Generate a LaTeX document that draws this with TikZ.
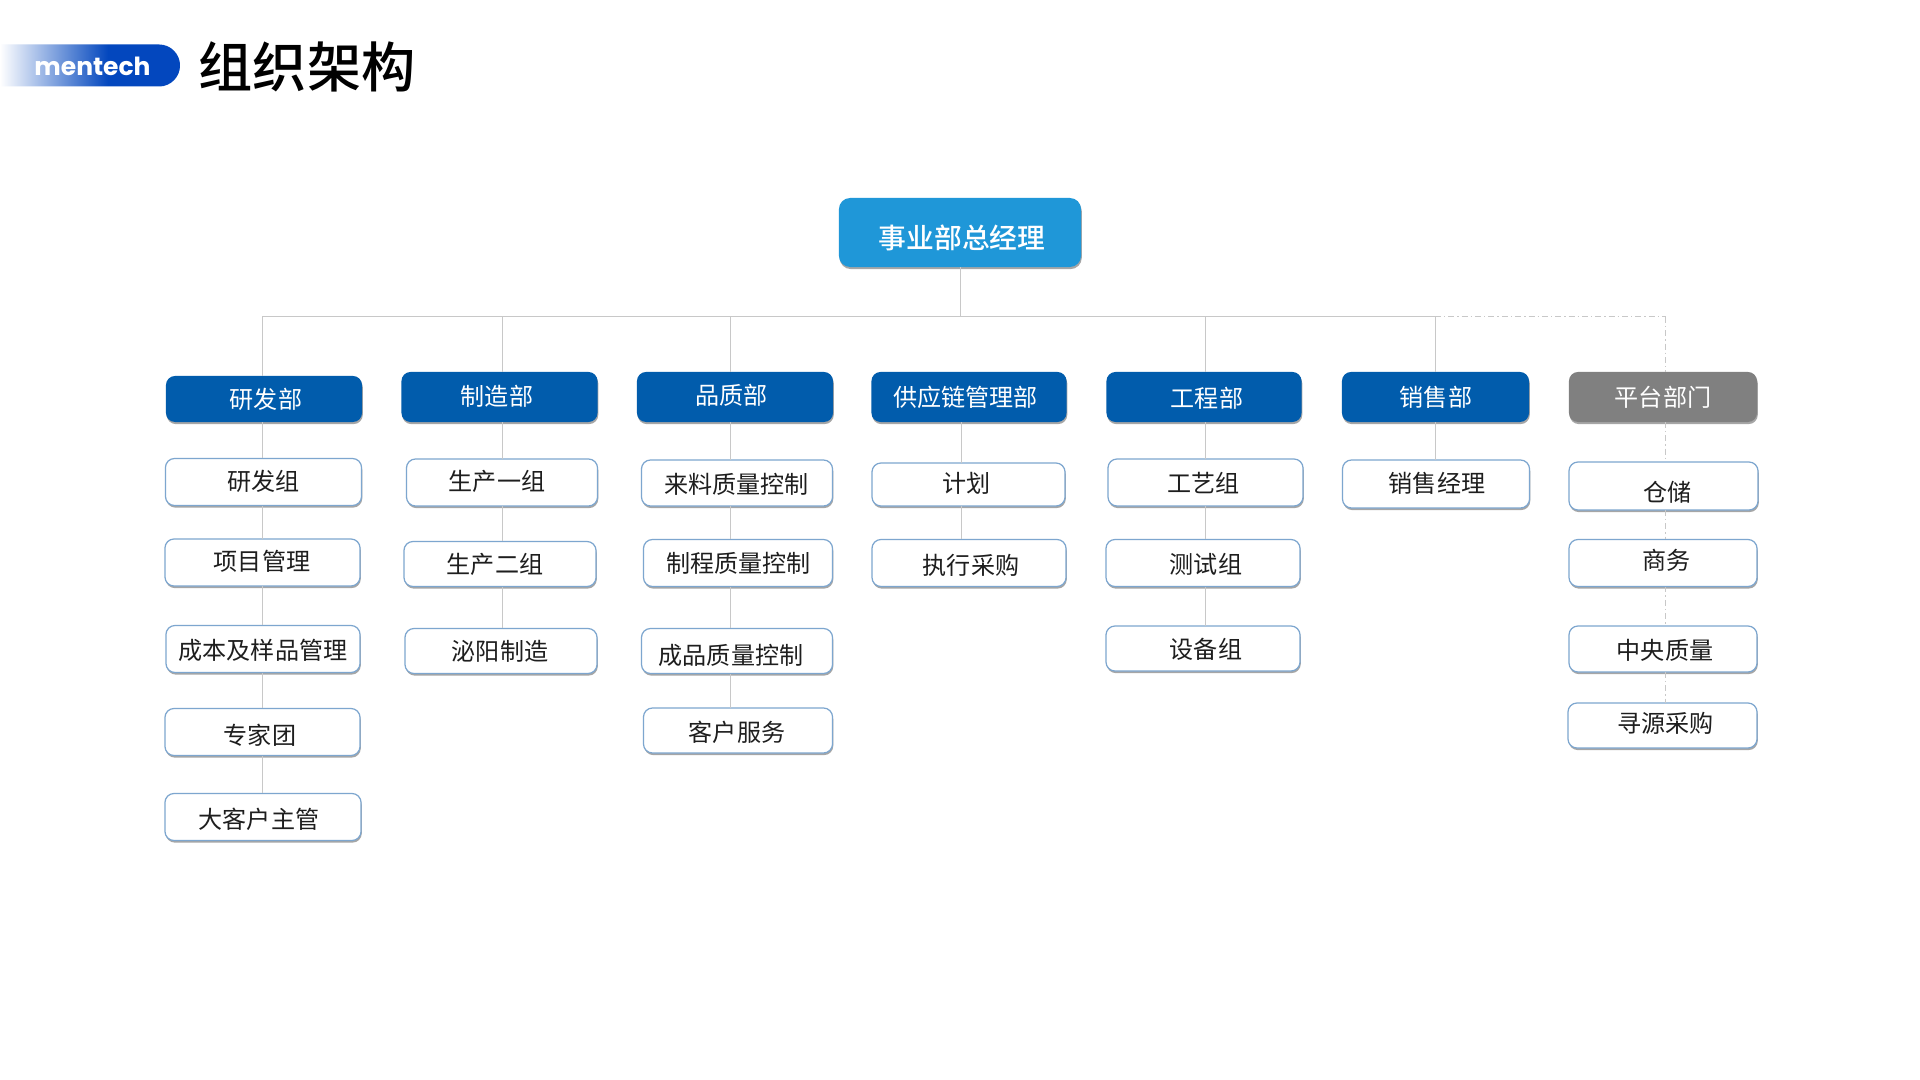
\documentclass[tikz,border=0pt]{standalone}
\usepackage{fontspec}
\usepackage{xcolor}
\usetikzlibrary{shadows,shapes.misc}
\setmainfont{Noto Sans CJK SC}
\newfontfamily\logofont{Poppins}
\newfontfamily\headfont{Noto Sans CJK SC Medium}
\definecolor{rootblue}{HTML}{1F97D8}
\definecolor{deptblue}{HTML}{015CAC}
\definecolor{deptgrey}{HTML}{808080}
\definecolor{subframe}{HTML}{7DA6CF}
\definecolor{wiregrey}{HTML}{C8C8C8}
\definecolor{logoblue}{HTML}{0347BE}
\definecolor{subtext}{HTML}{1E1E1E}
\pgfdeclarehorizontalshading{pillfade}{100bp}{color(0bp)=(white); color(25bp)=(white);
  color(55bp)=(logoblue); color(100bp)=(logoblue)}
\newdimen\pxu \pxu=0.01cm
\newcommand{\nudge}[3]{\makebox[0pt]{\hspace*{2\dimexpr#1\pxu\relax}%
  \raisebox{\dimexpr -0.42em-#2\pxu\relax}[0pt][0pt]{#3}}}

\begin{document}
\begin{tikzpicture}[
  x=0.01cm,y=-0.01cm,
  font=\fontsize{6.85}{8}\selectfont,
  every node/.style={align=center,inner sep=0pt,outer sep=0pt},
  softshadow/.style={drop shadow={shadow xshift=0.2pt,shadow yshift=-0.6pt,opacity=.35,fill=black}},
  rootbox/.style={fill=rootblue,rounded corners=3.2pt,softshadow,text=white,
                  font=\fontsize{7.9}{9}\selectfont\headfont,minimum width=2.42cm,minimum height=0.69cm},
  dept/.style={fill=deptblue,rounded corners=2.6pt,softshadow,text=white,minimum height=0.5cm},
  platdept/.style={dept,fill=deptgrey},
  sub/.style={draw=subframe,line width=0.35pt,fill=white,rounded corners=2.6pt,softshadow,
              text=subtext,minimum height=0.47cm},
  wire/.style={draw=wiregrey,line width=0.28pt},
  dashwire/.style={wire,dash pattern=on 1.7pt off .85pt on .4pt off .85pt}
]
\useasboundingbox (0,0) rectangle (1920,1080);
\fill[white] (0,0) rectangle (1920,1080);

\node[rounded rectangle,rounded rectangle west arc=none,shading=pillfade,
      minimum width=1.8cm,minimum height=0.42cm] (logo) at (90,65.5) {};
\node[text=white,font=\fontsize{7.1}{9}\selectfont\logofont\bfseries] (logotext) at (92.5,66) {mentech};
\node[font=\fontsize{15.4}{17}\selectfont\headfont,text=black] (title) at (307,67) {组织架构};

\node[rootbox] (root) at (960,232.5) {\nudge{2}{4}{事业部总经理}};

\node[dept,minimum width=1.96cm,minimum height=0.46cm] (rd) at (264,399) {\nudge{2}{-1}{研发部}};
\node[dept,minimum width=1.96cm] (mfg)   at (499.5,397) {\nudge{-2.5}{-2}{制造部}};
\node[dept,minimum width=1.96cm] (qual)  at (735,397)   {\nudge{-3.5}{-3}{品质部}};
\node[dept,minimum width=1.95cm] (scm)   at (969,397)   {\nudge{-3.5}{-1}{供应链管理部}};
\node[dept,minimum width=1.95cm] (eng)   at (1204,397)  {\nudge{3}{0}{工程部}};
\node[dept,minimum width=1.87cm] (sales) at (1435.5,397) {\nudge{0.5}{-1}{销售部}};
\node[platdept,minimum width=1.88cm] (plat) at (1663,397) {\nudge{0}{-1}{平台部门}};

\node[sub,minimum width=1.96cm] (rdgrp)  at (263.5,482) {\nudge{0}{-2}{研发组}};
\node[sub,minimum width=1.95cm] (pm)     at (262.5,562.5) {\nudge{-0.5}{-2.5}{项目管理}};
\node[sub,minimum width=1.94cm] (cost)   at (263,649)   {\nudge{0}{0}{成本及样品管理}};
\node[sub,minimum width=1.95cm] (expert) at (262.5,732) {\nudge{-2.5}{2.5}{专家团}};
\node[sub,minimum width=1.96cm] (kam)    at (263,817)   {\nudge{-4}{1}{大客户主管}};

\node[sub,minimum width=1.91cm] (prodone) at (502,482.5) {\nudge{-5}{-2.5}{生产一组}};
\node[sub,minimum width=1.92cm,minimum height=0.45cm] (prodtwo) at (500,564) {\nudge{-5}{-1}{生产二组}};
\node[sub,minimum width=1.92cm,minimum height=0.45cm] (biyang)  at (501,651) {\nudge{-1}{-1}{泌阳制造}};

\node[sub,minimum width=1.91cm,minimum height=0.46cm] (iqc)  at (737,483)   {\nudge{-0.5}{0.5}{来料质量控制}};
\node[sub,minimum width=1.89cm] (ipqc) at (738,563)   {\nudge{0.5}{-1}{制程质量控制}};
\node[sub,minimum width=1.91cm,minimum height=0.45cm] (oqc)  at (737,651)   {\nudge{-6}{3}{成品质量控制}};
\node[sub,minimum width=1.89cm,minimum height=0.45cm] (cserv) at (738,730.5) {\nudge{-1}{1}{客户服务}};

\node[sub,minimum width=1.93cm,minimum height=0.43cm] (plan) at (968.5,484.5) {\nudge{-2}{-2}{计划}};
\node[sub,minimum width=1.94cm] (purch) at (969,563) {\nudge{2}{1}{执行采购}};

\node[sub,minimum width=1.95cm] (craft) at (1205.5,482.5) {\nudge{-2}{0}{工艺组}};
\node[sub,minimum width=1.94cm] (test)  at (1203,563)   {\nudge{3}{0}{测试组}};
\node[sub,minimum width=1.94cm,minimum height=0.45cm] (equip) at (1203,648.5) {\nudge{3}{0}{设备组}};

\node[sub,minimum width=1.87cm,minimum height=0.48cm] (salesmgr) at (1436,484) {\nudge{1}{-2}{销售经理}};

\node[sub,minimum width=1.89cm,minimum height=0.48cm] (store) at (1663.5,486) {\nudge{4}{5.5}{仓储}};
\node[sub,minimum width=1.88cm] (biz)    at (1663,563)   {\nudge{3.5}{-3.5}{商务}};
\node[sub,minimum width=1.88cm,minimum height=0.46cm] (cquality) at (1663,649) {\nudge{2}{0}{中央质量}};
\node[sub,minimum width=1.89cm,minimum height=0.45cm] (source)   at (1662.5,725.5) {\nudge{3}{-3}{寻源采购}};

\coordinate (busrd)    at (262,317);
\coordinate (busmfg)   at (502,317);
\coordinate (busqual)  at (730,317);
\coordinate (busroot)  at (960,317);
\coordinate (busscm)   at (961,317);
\coordinate (buseng)   at (1205,317);
\coordinate (bussales) at (1435,317);
\coordinate (busplat)  at (1665.5,317);

\draw[wire] (root.south) -- (busroot);
\draw[wire] (busrd) -- (bussales);
\draw[dashwire] (bussales) -- (busplat);

\draw[wire] (busrd) -- (busrd |- rd.north);
\foreach \upper/\lower in {rd/rdgrp,rdgrp/pm,pm/cost,cost/expert,expert/kam}
  \draw[wire] (busrd |- \upper.south) -- (busrd |- \lower.north);

\draw[wire] (busmfg) -- (busmfg |- mfg.north);
\foreach \upper/\lower in {mfg/prodone,prodone/prodtwo,prodtwo/biyang}
  \draw[wire] (busmfg |- \upper.south) -- (busmfg |- \lower.north);

\draw[wire] (busqual) -- (busqual |- qual.north);
\foreach \upper/\lower in {qual/iqc,iqc/ipqc,ipqc/oqc,oqc/cserv}
  \draw[wire] (busqual |- \upper.south) -- (busqual |- \lower.north);

\foreach \upper/\lower in {scm/plan,plan/purch}
  \draw[wire] (busscm |- \upper.south) -- (busscm |- \lower.north);

\draw[wire] (buseng) -- (buseng |- eng.north);
\foreach \upper/\lower in {eng/craft,craft/test,test/equip}
  \draw[wire] (buseng |- \upper.south) -- (buseng |- \lower.north);

\draw[wire] (bussales) -- (bussales |- sales.north);
\draw[wire] (bussales |- sales.south) -- (bussales |- salesmgr.north);

\draw[dashwire] (busplat) -- (busplat |- plat.north);
\foreach \upper/\lower in {plat/store,store/biz,biz/cquality,cquality/source}
  \draw[dashwire] (busplat |- \upper.south) -- (busplat |- \lower.north);
\end{tikzpicture}
\end{document}
